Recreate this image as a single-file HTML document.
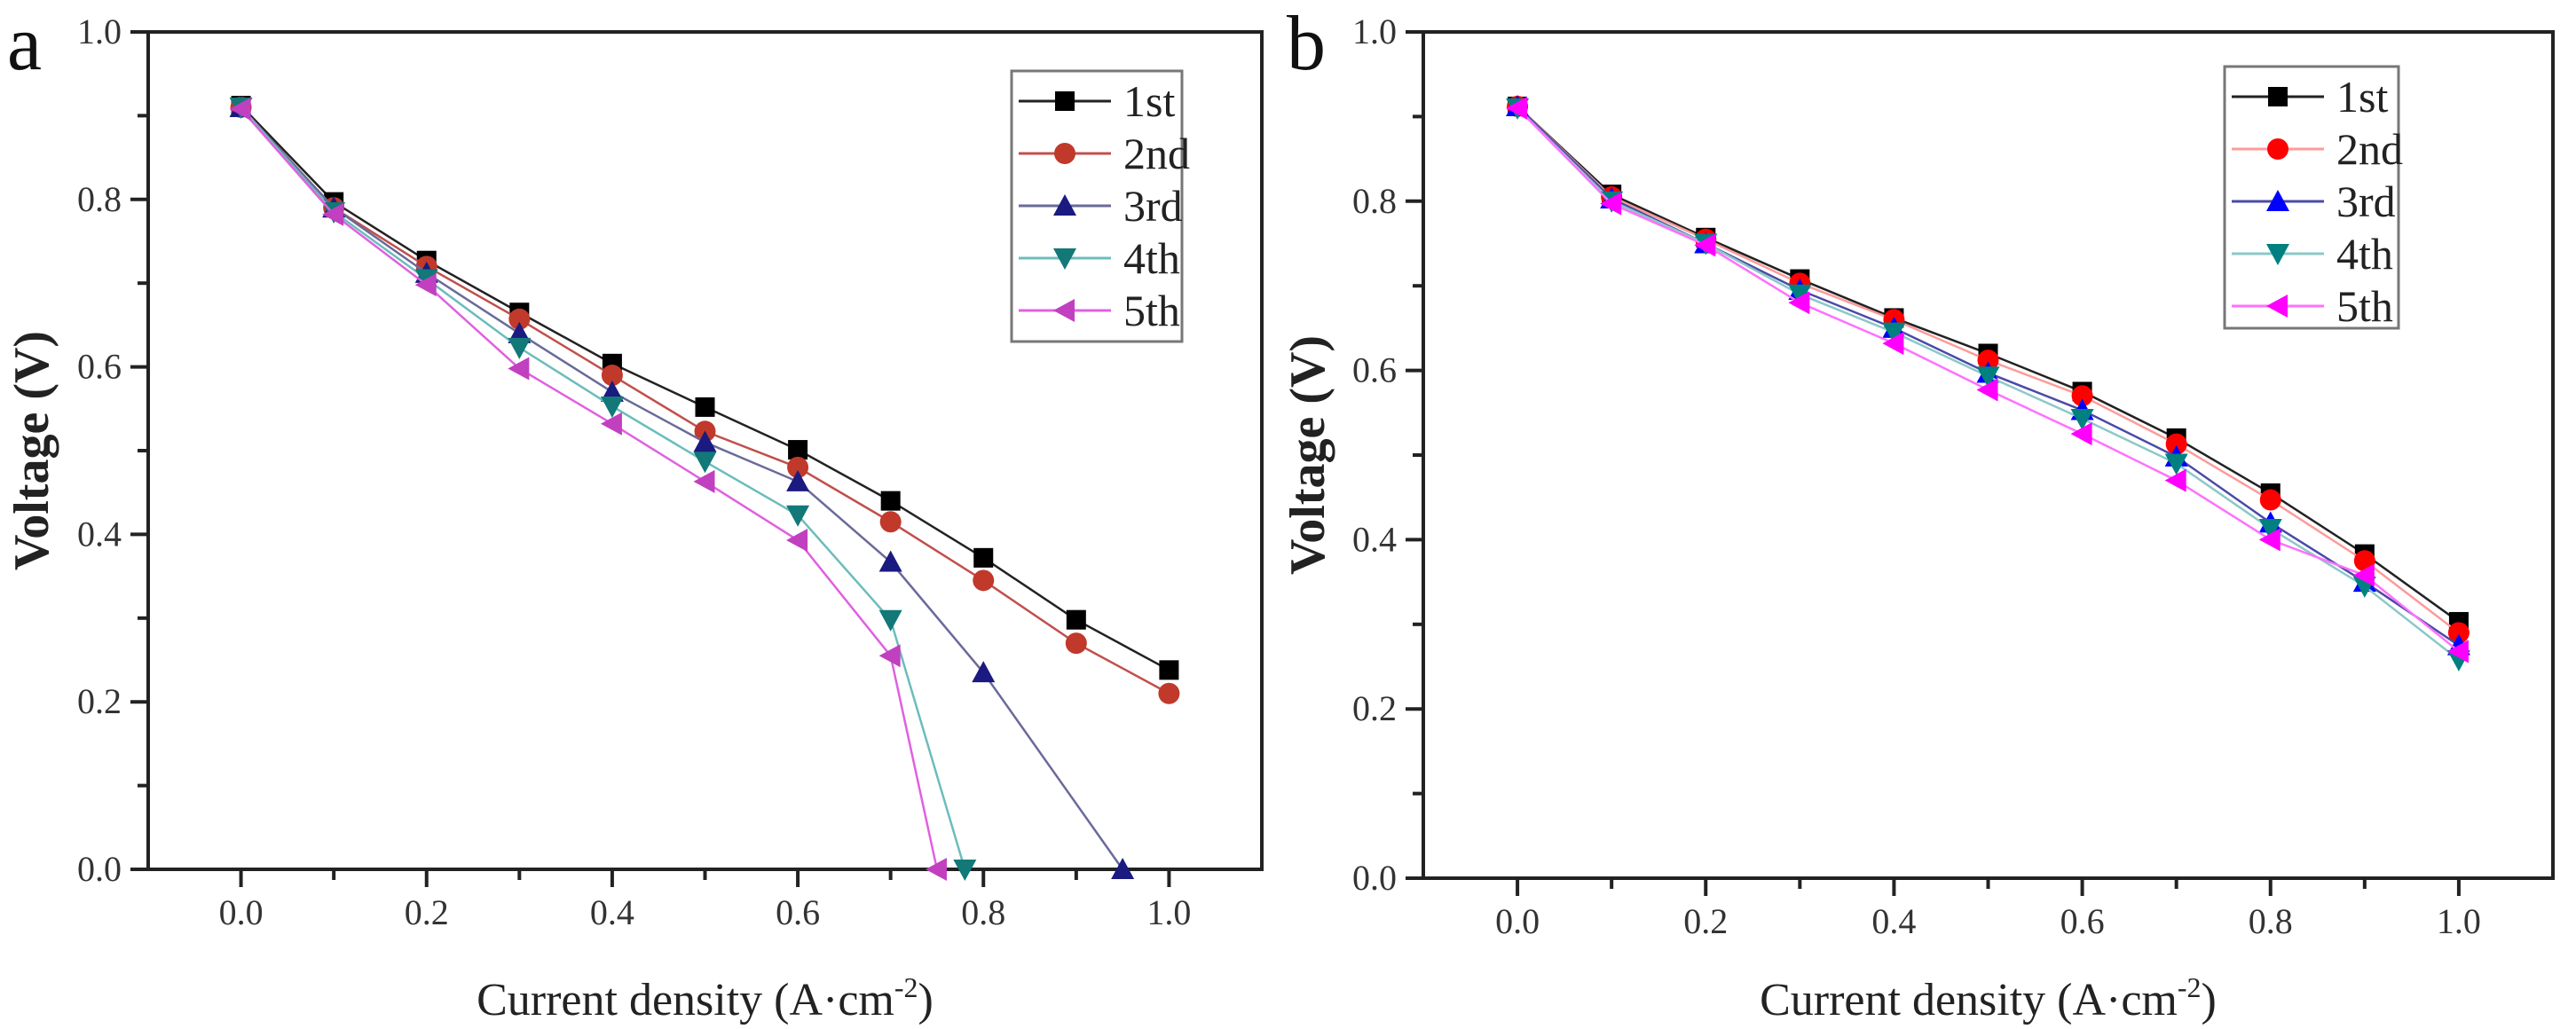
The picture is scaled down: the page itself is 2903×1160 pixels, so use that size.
<!DOCTYPE html>
<html><head><meta charset="utf-8"><style>
html,body{margin:0;padding:0;background:#fff;}
svg{display:block;font-family:"Liberation Serif",serif;}
</style></head><body>
<svg id="fig" width="2903" height="1160" viewBox="0 0 2903 1160"></svg>
<script>
const xValsFull = [0,0.1,0.2,0.3,0.4,0.5,0.6,0.7,0.8,0.9,1.0];
const seriesNames = ["1st","2nd","3rd","4th","5th"];
// Panel a
const a1stX = xValsFull;
const a1stY = [0.912,0.797,0.727,0.665,0.604,0.552,0.501,0.440,0.372,0.298,0.238];
const a2ndX = xValsFull;
const a2ndY = [0.910,0.790,0.720,0.657,0.590,0.523,0.480,0.415,0.345,0.270,0.210];
const a3rdX = [0,0.1,0.2,0.3,0.4,0.5,0.6,0.7,0.8,0.95];
const a3rdY = [0.910,0.790,0.712,0.640,0.570,0.510,0.463,0.367,0.235,0.0];
const a4thX = [0,0.1,0.2,0.3,0.4,0.5,0.6,0.7,0.78];
const a4thY = [0.910,0.785,0.705,0.623,0.553,0.487,0.423,0.298,0.0];
const a5thX = [0,0.1,0.2,0.3,0.4,0.5,0.6,0.7,0.75];
const a5thY = [0.908,0.782,0.698,0.598,0.532,0.463,0.393,0.255,0.0];
// Panel b
const b1stY = [0.912,0.808,0.757,0.708,0.662,0.620,0.575,0.520,0.455,0.383,0.303];
const b2ndY = [0.912,0.805,0.755,0.703,0.660,0.612,0.570,0.513,0.447,0.375,0.290];
const b3rdY = [0.912,0.803,0.750,0.695,0.650,0.597,0.553,0.498,0.420,0.350,0.275];
const b4thY = [0.910,0.800,0.750,0.690,0.645,0.593,0.543,0.490,0.413,0.345,0.258];
const b5thY = [0.910,0.797,0.748,0.680,0.632,0.577,0.525,0.470,0.400,0.358,0.268];
const xTickLabels = ["0.0","0.2","0.4","0.6","0.8","1.0"];
const yTickLabels = ["0.0","0.2","0.4","0.6","0.8","1.0"];

const NS="http://www.w3.org/2000/svg";
const svg=document.getElementById('fig');
function mk(tag,attrs,parent){const e=document.createElementNS(NS,tag);for(const k in attrs)e.setAttribute(k,attrs[k]);(parent||svg).appendChild(e);return e;}

function panel(cfg){
  const g=mk('g',{});
  
  
  const L=cfg.left,R=cfg.right,T=cfg.top,B=cfg.bottom;
  const sx=v=>L+(v+0.1)/1.2*(R-L);
  const sy=v=>B-v*(B-T);
  const frame=mk('rect',{x:L,y:T,width:R-L,height:B-T,fill:'none',stroke:'#222','stroke-width':4},g);
  
  
  for(let i=0;i<=10;i++){
    const v=i/10, x=sx(v), major=i%2===0;
    const t=mk('line',{x1:x,y1:B,x2:x,y2:B+(major?20:12),stroke:'#222','stroke-width':4},g);
    
    
    if(major){
      const tx=mk('text',{x:x,y:B+62,'font-size':40,'text-anchor':'middle',fill:'#333'},g);
      tx.textContent=xTickLabels[i/2];
      
      
    }
  }
  for(let i=0;i<=10;i++){
    const v=i/10,y=sy(v),major=i%2===0;
    const t=mk('line',{x1:L,y1:y,x2:L-(major?20:12),y2:y,stroke:'#222','stroke-width':4},g);
    
    
    if(major){
      const ty=mk('text',{x:L-30,y:y+13,'font-size':40,'text-anchor':'end',fill:'#333'},g);
      ty.textContent=yTickLabels[i/2];
      
      
    }
  }
  const xt=mk('text',{x:(L+R)/2,y:1144,'font-size':52,'text-anchor':'middle',fill:'#222'},g);
  xt.innerHTML='Current density (A·cm<tspan dy="-20" font-size="32">-2</tspan><tspan dy="20">)</tspan>';
  
  
  const yt=mk('text',{x:0,y:0,'font-size':56,'font-weight':'bold','text-anchor':'middle',fill:'#222',transform:`translate(${cfg.ytX},${(T+B)/2}) rotate(-90)`},g);
  yt.textContent='Voltage (V)';
  
  
  const pl=mk('text',{x:cfg.labX,y:78,'font-size':88,fill:'#111'},g);
  pl.textContent=cfg.id;
  
  
  cfg.series.forEach((s,si)=>{
    const pts=s.x.map((xv,i)=>sx(xv)+','+sy(s.y[i])).join(' ');
    const ln=mk('polyline',{points:pts,fill:'none',stroke:s.line,'stroke-width':2.5},g);
    
    
    s.x.forEach((xv,i)=>{
      const m=marker(s.shape,sx(xv),sy(s.y[i]),s.mark,g);
      
      
    });
  });
  const lg=mk('rect',{x:cfg.lg.x,y:cfg.lg.y,width:cfg.lg.w,height:cfg.lg.h,fill:'#fff',stroke:'#777','stroke-width':3},g);
  
  
  cfg.series.forEach((s,si)=>{
    const y=cfg.lg.y+34+si*59;
    const l=mk('line',{x1:cfg.lg.x+8,y1:y,x2:cfg.lg.x+112,y2:y,stroke:s.line,'stroke-width':3},g);
    
    
    const m=marker(s.shape,cfg.lg.x+60,y,s.mark,g);
    
    
    const t=mk('text',{x:cfg.lg.x+126,y:y+17,'font-size':50,fill:'#222'},g);
    t.textContent=seriesNames[si];
    
    
  });
}
function marker(shape,x,y,c,g){
  const r=11;
  if(shape==='sq') return mk('rect',{x:x-r,y:y-r,width:2*r,height:2*r,fill:c},g);
  if(shape==='ci') return mk('circle',{cx:x,cy:y,r:r+1,fill:c},g);
  let p;
  if(shape==='up') p=[[x,y-r-2],[x+r+2,y+r],[x-r-2,y+r]];
  if(shape==='dn') p=[[x-r-2,y-r],[x+r+2,y-r],[x,y+r+2]];
  if(shape==='lf') p=[[x-r-2,y],[x+r,y-r-2],[x+r,y+r+2]];
  return mk('polygon',{points:p.map(q=>q.join(',')).join(' '),fill:c},g);
}
panel({id:'a',left:167,right:1422,top:36,bottom:980,ytX:54,labX:8,
  lg:{x:1140,y:80,w:192,h:305},
  series:[
    {x:a1stX,y:a1stY,line:'#222',mark:'#000',shape:'sq'},
    {x:a2ndX,y:a2ndY,line:'#c0504d',mark:'#c0392b',shape:'ci'},
    {x:a3rdX,y:a3rdY,line:'#6a6a9a',mark:'#1a1a80',shape:'up'},
    {x:a4thX,y:a4thY,line:'#6cbcbc',mark:'#127878',shape:'dn'},
    {x:a5thX,y:a5thY,line:'#e060e0',mark:'#c040c0',shape:'lf'}
  ]});
panel({id:'b',left:1604,right:2877,top:36,bottom:990,ytX:1492,labX:1450,
  lg:{x:2507,y:75,w:196,h:295},
  series:[
    {x:xValsFull,y:b1stY,line:'#222',mark:'#000',shape:'sq'},
    {x:xValsFull,y:b2ndY,line:'#ff9a9a',mark:'#ff0000',shape:'ci'},
    {x:xValsFull,y:b3rdY,line:'#4a4aa8',mark:'#0000ff',shape:'up'},
    {x:xValsFull,y:b4thY,line:'#8cc8c8',mark:'#008080',shape:'dn'},
    {x:xValsFull,y:b5thY,line:'#ff70ff',mark:'#ff00ff',shape:'lf'}
  ]});
</script>
</body></html>
